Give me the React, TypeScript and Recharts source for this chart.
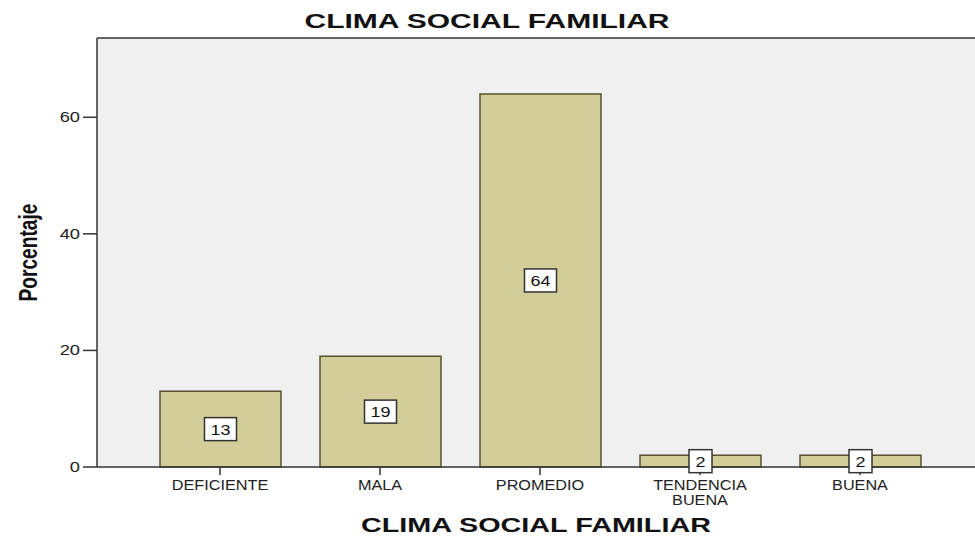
import { Bar, BarChart, CartesianGrid, LabelList, Label, ReferenceLine, XAxis, YAxis } from "recharts";

const categories = ["DEFICIENTE", "MALA", "PROMEDIO", "TENDENCIA BUENA", "BUENA"];
const tickLines: string[][] = [["DEFICIENTE"], ["MALA"], ["PROMEDIO"], ["TENDENCIA", "BUENA"], ["BUENA"]];
const percentages = [13, 19, 64, 2, 2];
const yTicks = [0, 20, 40, 60];

const data = categories.map((name, i) => ({ name, value: percentages[i], lines: tickLines[i] }));

const FONT = "'Liberation Sans', Arial, sans-serif";
const INK = "#222";

function XTick({ x, y, index }: any) {
  const lines = tickLines[index] ?? [];
  return (
    <g transform={`translate(${x},${y}) scale(1.12,1)`}>
      {lines.map((l, i) => (
        <text key={l} x={0} y={13.5 + i * 15} textAnchor="middle" fontFamily={FONT} fontSize={14.5} fill={INK}>
          {l}
        </text>
      ))}
    </g>
  );
}

function YTick({ x, y, payload }: any) {
  return (
    <g transform={`translate(${x},${y}) scale(1.22,1)`}>
      <text x={0} y={0} dy={5} textAnchor="end" fontFamily={FONT} fontSize={15} fill={INK}>
        {payload.value}
      </text>
    </g>
  );
}

function ValueBox({ x, y, width, height, value }: any) {
  const cx = x + width / 2;
  const cy = y + height / 2;
  const w = String(value).length > 1 ? 32 : 23;
  const h = 23;
  return (
    <g>
      <rect x={cx - w / 2} y={cy - h / 2} width={w} height={h} fill="#fff" stroke="#333" strokeWidth={1.5} />
      <g transform={`translate(${cx},${cy}) scale(1.2,1)`}>
        <text x={0} y={0} dy={5.5} textAnchor="middle" fontFamily={FONT} fontSize={15} fill="#111">
          {value}
        </text>
      </g>
    </g>
  );
}

export default function App() {
  return (
    <div style={{ position: "absolute", left: 0, top: 0, width: 975, height: 545, background: "#fff" }}>
      <svg width={975} height={40} style={{ position: "absolute", left: 0, top: 0 }}>
        <text
          x={487}
          y={28}
          textAnchor="middle"
          fontFamily={FONT}
          fontWeight="bold"
          fontSize={21}
          fill="#111"
          textLength={365}
          lengthAdjust="spacingAndGlyphs"
        >
          CLIMA SOCIAL FAMILIAR
        </text>
      </svg>
      <BarChart width={975} height={545} data={data} margin={{ top: 38, right: 0, bottom: 0, left: 0 }}>
        <CartesianGrid horizontal={false} vertical={false} fill="#f0f0f0" />
        <XAxis
          dataKey="name"
          height={78}
          padding={{ left: 43, right: 35 }}
          tickSize={8}
          tick={<XTick />}
          interval={0}
          axisLine={{ stroke: "#333", strokeWidth: 1.5 }}
          tickLine={{ stroke: "#333", strokeWidth: 1.5 }}
        >
          <Label
            content={({ viewBox }: any) => (
              <text
                x={viewBox.x + viewBox.width / 2}
                y={viewBox.y + 65}
                textAnchor="middle"
                fontFamily={FONT}
                fontWeight="bold"
                fontSize={21}
                fill="#111"
                textLength={350}
                lengthAdjust="spacingAndGlyphs"
              >
                CLIMA SOCIAL FAMILIAR
              </text>
            )}
          />
        </XAxis>
        <YAxis
          width={97}
          domain={[0, 73.6]}
          ticks={yTicks}
          tickSize={14}
          tickMargin={3}
          tick={<YTick />}
          axisLine={{ stroke: "#333", strokeWidth: 1.5 }}
          tickLine={{ stroke: "#333", strokeWidth: 1.5 }}
        >
          <Label
            content={({ viewBox }: any) => {
              const lx = 37;
              const ly = viewBox.y + viewBox.height / 2;
              return (
                <text
                  x={lx}
                  y={ly}
                  transform={`rotate(-90 ${lx} ${ly})`}
                  textAnchor="middle"
                  fontFamily={FONT}
                  fontWeight="bold"
                  fontSize={25}
                  fill="#111"
                  textLength={98}
                  lengthAdjust="spacingAndGlyphs"
                >
                  Porcentaje
                </text>
              );
            }}
          />
        </YAxis>
        <ReferenceLine y={73.6} stroke="#333" strokeWidth={1.5} />
        <Bar dataKey="value" fill="#d3ce99" stroke="#55512e" strokeWidth={1.5} barSize={121} isAnimationActive={false}>
          <LabelList dataKey="value" content={<ValueBox />} />
        </Bar>
      </BarChart>
    </div>
  );
}
